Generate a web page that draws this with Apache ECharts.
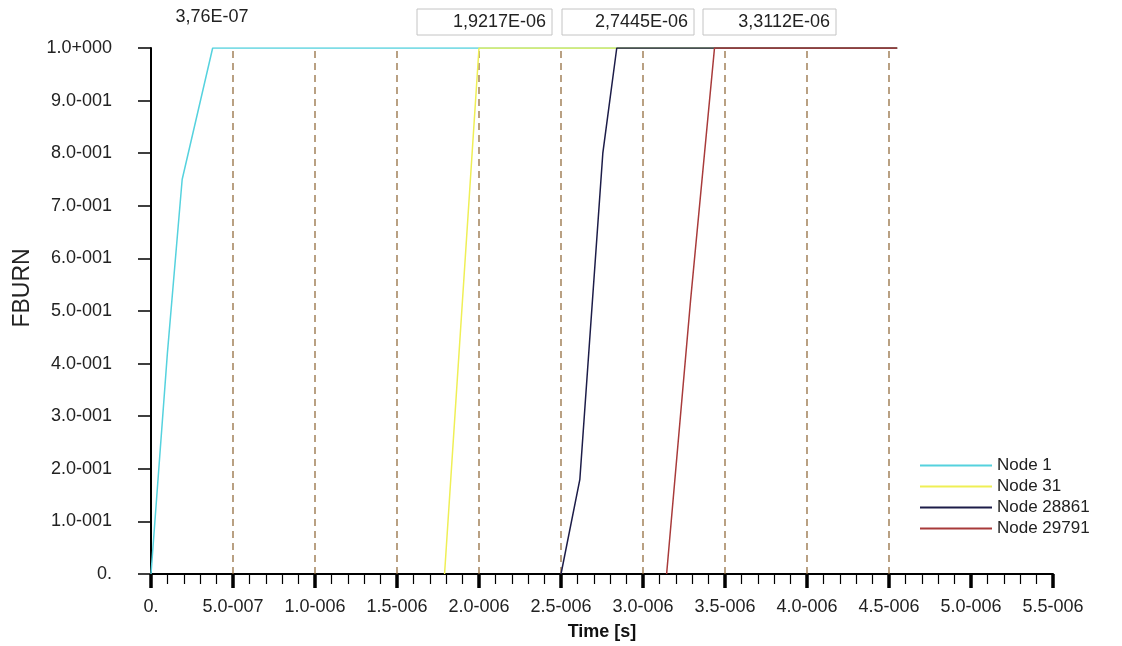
<!DOCTYPE html>
<html>
<head>
    <meta charset="utf-8">
    <title>FBURN</title>
    <script src="https://cdn.jsdelivr.net/npm/echarts@6.0.0/dist/echarts.min.js"></script>
</head>
<body style="margin:0;background:#fff;">
    <div id="main" style="width:1122px;height:646px;"></div>

<script>
// 各节点的时间 (s) 与 FBURN 值
const node1Time = [0, 0.1e-6, 0.19e-6, 0.376e-6, 4.55e-6];
const node1Val = [0, 0.42, 0.75, 1.0, 1.0];
const node31Time = [1.79e-6, 1.895e-6, 2.0e-6, 4.55e-6];
const node31Val = [0, 0.5, 1.0, 1.0];
const node28861Time = [2.5e-6, 2.615e-6, 2.755e-6, 2.84e-6, 4.55e-6];
const node28861Val = [0, 0.18, 0.8, 1.0, 1.0];
const node29791Time = [3.144e-6, 3.29e-6, 3.436e-6, 4.55e-6];
const node29791Val = [0, 0.52, 1.0, 1.0];

const seriesNames = ['Node 1', 'Node 31', 'Node 28861', 'Node 29791'];
const seriesColors = ['#55d2de', '#efef55', '#1c1c48', '#a83a3a'];

// 竖直虚线位置
const guideTimes = [0.5e-6, 1.0e-6, 1.5e-6, 2.0e-6, 2.5e-6, 3.0e-6, 3.5e-6, 4.0e-6, 4.5e-6];

// 刻度标签
const xTickLabels = ['0.', '5.0-007', '1.0-006', '1.5-006', '2.0-006', '2.5-006',
    '3.0-006', '3.5-006', '4.0-006', '4.5-006', '5.0-006', '5.5-006'];
const yTickLabels = ['0.', '1.0-001', '2.0-001', '3.0-001', '4.0-001', '5.0-001',
    '6.0-001', '7.0-001', '8.0-001', '9.0-001', '1.0+000'];

// 顶部标注
const topValues = ['3,76E-07', '1,9217E-06', '2,7445E-06', '3,3112E-06'];

const FONT = '"Liberation Sans", Arial, sans-serif';

function zip(t, v) {
    return t.map((x, i) => [x, v[i]]);
}

const seriesData = [
    zip(node1Time, node1Val),
    zip(node31Time, node31Val),
    zip(node28861Time, node28861Val),
    zip(node29791Time, node29791Val)
];

const myChart = echarts.init(document.getElementById('main'));

// 虚线（每条是一个两点的系列）
const series = guideTimes.map(t => ({
    type: 'line',
    data: [[t, 0], [t, 1]],
    symbol: 'none',
    silent: true,
    lineStyle: { color: '#8a6230', type: [7, 5], width: 1.2 },
    z: 1
}));

seriesData.forEach((d, i) => {
    series.push({
        name: seriesNames[i],
        type: 'line',
        data: d,
        symbol: 'none',
        color: seriesColors[i],
        lineStyle: { width: 1.5, color: seriesColors[i] },
        z: 3
    });
});

// 顶部文字框
const boxes = [
    { x: 417, w: 135 },
    { x: 562, w: 132 },
    { x: 703, w: 133 }
];
const graphic = [{
    type: 'text',
    x: 212,
    y: 17,
    style: {
        text: topValues[0], font: '18px ' + FONT, fill: '#222',
        align: 'center', verticalAlign: 'middle'
    }
}, {
    type: 'text',
    x: 23,
    y: 288,
    rotation: Math.PI / 2,
    style: {
        text: 'FBURN', font: '23px ' + FONT, fill: '#222',
        align: 'center', verticalAlign: 'middle'
    }
}];
boxes.forEach((b, i) => {
    graphic.push({
        type: 'rect',
        shape: { x: b.x, y: 9, width: b.w, height: 26 },
        style: { fill: '#fff', stroke: '#c4c4c4', lineWidth: 1 }
    });
    graphic.push({
        type: 'text',
        x: b.x + b.w - 6,
        y: 22,
        style: {
            text: topValues[i + 1], font: '18px ' + FONT, fill: '#222',
            align: 'right', verticalAlign: 'middle'
        }
    });
});

const option = {
    animation: false,
    backgroundColor: '#fff',
    grid: { left: 151, right: 69, top: 48, bottom: 71 },
    legend: {
        data: seriesNames,
        orient: 'vertical',
        left: 915,
        top: 452,
        icon: 'rect',
        itemWidth: 72,
        itemHeight: 2,
        itemGap: 4,
        textStyle: { fontFamily: FONT, fontSize: 17, lineHeight: 17, color: '#222' }
    },
    xAxis: {
        type: 'value',
        min: 0,
        max: 5.5e-6,
        interval: 0.5e-6,
        name: 'Time [s]',
        nameLocation: 'middle',
        nameGap: 49,
        nameTextStyle: { fontFamily: FONT, fontSize: 18, fontWeight: 'bold', color: '#111' },
        axisLine: { onZero: false, lineStyle: { color: '#000', width: 2 } },
        axisTick: { inside: false, length: 14, lineStyle: { color: '#000', width: 3.5 } },
        minorTick: { show: true, splitNumber: 5, length: 10, lineStyle: { color: '#000', width: 1.2 } },
        splitLine: { show: false },
        axisLabel: {
            margin: 24,
            fontFamily: FONT,
            fontSize: 18,
            color: '#222',
            formatter: (v) => xTickLabels[Math.round(v / 0.5e-6)]
        }
    },
    yAxis: {
        type: 'value',
        min: 0,
        max: 1,
        interval: 0.1,
        axisLine: { show: true, lineStyle: { color: '#000', width: 2 } },
        axisTick: { inside: false, length: 13, lineStyle: { color: '#000', width: 1.5 } },
        splitLine: { show: false },
        axisLabel: {
            margin: 39,
            fontFamily: FONT,
            fontSize: 18,
            color: '#222',
            padding: [6, 0, 0, 0],
            formatter: (v) => yTickLabels[Math.round(v * 10)]
        }
    },
    graphic: graphic,
    series: series
};

myChart.setOption(option);
</script>
</body>
</html>
